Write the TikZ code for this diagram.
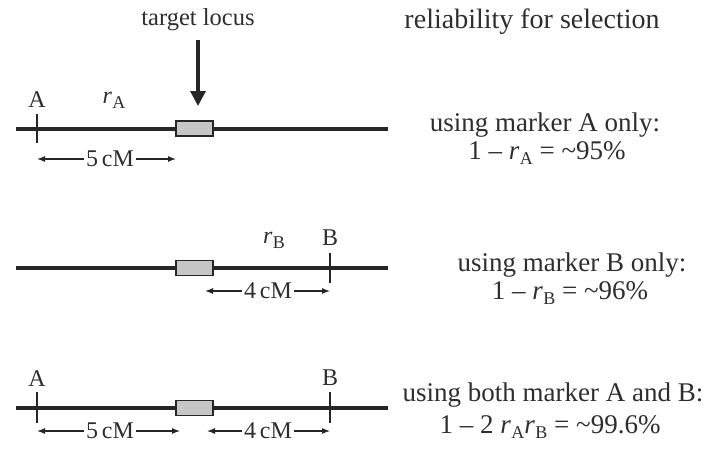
\documentclass[tikz,border=0pt]{standalone}
\usepackage{fontspec}
\setmainfont{Liberation Serif}
\usetikzlibrary{arrows.meta}
\definecolor{ink}{HTML}{262626}
\definecolor{txt}{HTML}{2E2E2E}
\newcommand\rsub[1]{\textit{r}\kern0.5pt\raisebox{-0.45ex}{\fontsize{18}{18}\selectfont #1}}
\begin{document}
\begin{tikzpicture}[x=1pt,y=-1pt,
  chrom/.style={line width=4pt, draw=ink},
  locus/.style={draw=ink, line width=1.5pt, fill=gray!45, minimum width=37pt, minimum height=15pt, inner sep=0pt},
  tick/.style={line width=1.8pt, draw=ink},
  dim/.style={line width=1.1pt, draw=ink, -{Latex[length=8pt,width=6pt]}},
  lbl/.style={font=\fontsize{24}{28}\selectfont, text=txt, inner sep=2pt},
  rtxt/.style={font=\fontsize{27}{30}\selectfont, text=txt, align=center, inner sep=0pt}]
\useasboundingbox (0,0) rectangle (709,448);
% ---- header
\node[rtxt, font=\fontsize{24.5}{28}\selectfont] (tl) at (198,20) {target locus};
\node[rtxt, font=\fontsize{28}{30}\selectfont] (h) at (532,22) {reliability for selection};
% ---- row 1
\coordinate (c1l) at (16,129); \coordinate (c1r) at (388,129);
\draw[chrom] (c1l) -- (c1r);
\node[locus] (g1) at (194.5,128.5) {};
\coordinate (tla) at (198,106); \coordinate (tls) at (198,40);
\draw[line width=3.2pt, draw=ink, -{Triangle[length=15pt,width=15pt]}] (tls) -- (tla);
\coordinate (a1t) at (37,114); \coordinate (a1b) at (37,143);
\draw[tick] (a1t) -- (a1b);
\node[lbl] (A1) at (37,100) {A};
\node[lbl] (rA1) at (114,100) {\rsub{A}};
\node[lbl] (d1) at (110,159) {5\,cM};
\coordinate (d1l) at (37,159); \coordinate (d1r) at (176,159);
\draw[dim] (d1) -- (d1l); \draw[dim] (d1) -- (d1r);
\node[rtxt] (t1) at (545,125) {using marker A only:};
\node[rtxt] (f1) at (547,153) {1 – \rsub{A} = \textasciitilde95\%};
% ---- row 2
\coordinate (c2l) at (16,268); \coordinate (c2r) at (388,268);
\draw[chrom] (c2l) -- (c2r);
\node[locus] (g2) at (194.5,268) {};
\coordinate (b2t) at (330,253); \coordinate (b2b) at (330,283);
\draw[tick] (b2t) -- (b2b);
\node[lbl] (B2) at (330,238) {B};
\node[lbl] (rB2) at (274,240) {\rsub{B}};
\node[lbl] (d2) at (268,291) {4\,cM};
\coordinate (d2l) at (205,291); \coordinate (d2r) at (330,291);
\draw[dim] (d2) -- (d2l); \draw[dim] (d2) -- (d2r);
\node[rtxt] (t2) at (572,265) {using marker B only:};
\node[rtxt] (f2) at (570,293) {1 – \rsub{B} = \textasciitilde96\%};
% ---- row 3
\coordinate (c3l) at (16,408); \coordinate (c3r) at (388,408);
\draw[chrom] (c3l) -- (c3r);
\node[locus] (g3) at (194.5,408) {};
\coordinate (a3t) at (37,392); \coordinate (a3b) at (37,423);
\draw[tick] (a3t) -- (a3b);
\coordinate (b3t) at (330,392); \coordinate (b3b) at (330,423);
\draw[tick] (b3t) -- (b3b);
\node[lbl] (A3) at (37,379) {A};
\node[lbl] (B3) at (330,378) {B};
\node[lbl] (d3) at (110,431) {5\,cM};
\coordinate (d3l) at (37,431); \coordinate (d3r) at (180,431);
\draw[dim] (d3) -- (d3l); \draw[dim] (d3) -- (d3r);
\node[lbl] (d4) at (268,431) {4\,cM};
\coordinate (d4l) at (207,431); \coordinate (d4r) at (330,431);
\draw[dim] (d4) -- (d4l); \draw[dim] (d4) -- (d4r);
\node[rtxt] (t3) at (553,395) {using both marker A and B:};
\node[rtxt] (f3) at (550,427) {1 – 2 \rsub{A}\rsub{B} = \textasciitilde99.6\%};
\end{tikzpicture}
\end{document}
